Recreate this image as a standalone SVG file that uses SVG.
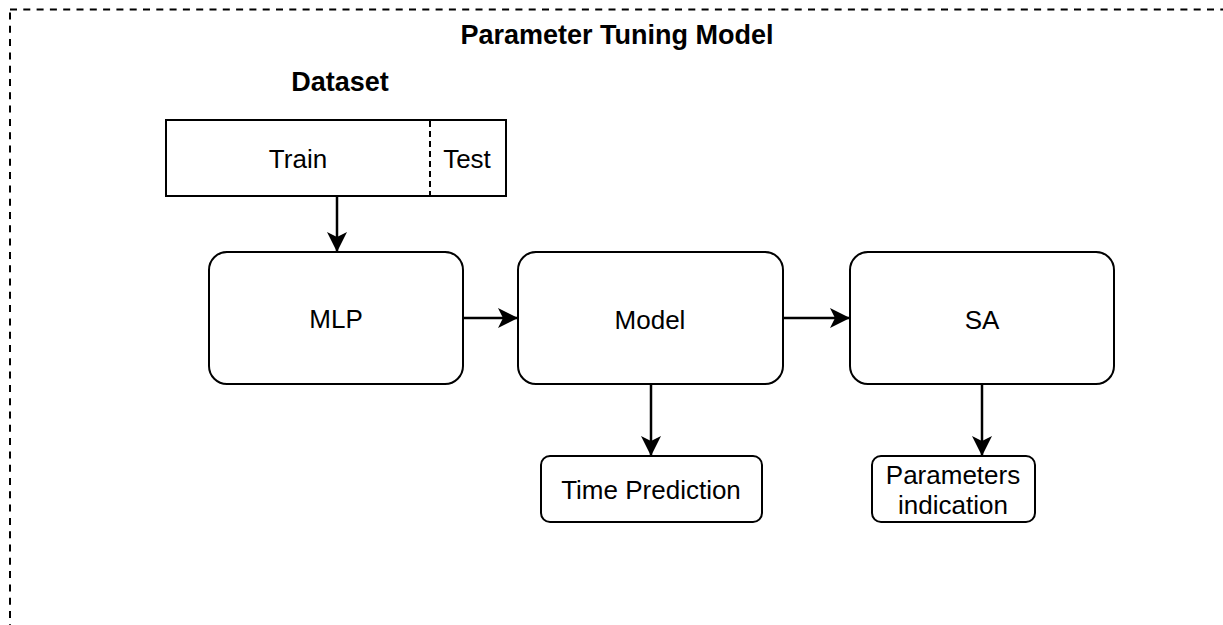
<svg xmlns="http://www.w3.org/2000/svg" width="1223" height="625" viewBox="0 0 1223 625">
  <style>
    .box { fill: #ffffff; stroke: #000000; stroke-width: 2; }
    .lbl { font-family: "Liberation Sans", Arial, sans-serif; font-size: 26px; fill: #000000; text-anchor: middle; }
    .ttl { font-family: "Liberation Sans", Arial, sans-serif; font-size: 27px; font-weight: bold; fill: #000000; text-anchor: middle; }
    .edge { fill: none; stroke: #000000; stroke-width: 2.5; }
  </style>
  <defs>
    <marker id="arrow" markerUnits="userSpaceOnUse" viewBox="0 0 20 20" markerWidth="20" markerHeight="20" refX="19" refY="10" orient="auto">
      <path d="M0,0 L20,10 L0,20 L5,10 Z" fill="#000000"/>
    </marker>
  </defs>

  <rect width="1223" height="625" fill="#ffffff"/>

  <!-- outer dashed frame -->
  <g id="frame">
    <rect x="10" y="9.5" width="1300" height="700" fill="none" stroke="#000000" stroke-width="2" stroke-dasharray="7 6.3"/>
    <text class="ttl" x="617" y="44">Parameter Tuning Model</text>
  </g>

  <!-- dataset split -->
  <g id="dataset">
    <text class="ttl" x="340" y="91">Dataset</text>
    <rect class="box" x="166" y="120" width="340" height="76"/>
    <line x1="430" y1="121" x2="430" y2="195" stroke="#000000" stroke-width="2" stroke-dasharray="6 4"/>
    <text class="lbl" x="298" y="168">Train</text>
    <text class="lbl" x="467" y="168">Test</text>
  </g>

  <g id="mlp">
    <rect class="box" x="209" y="252" width="254" height="132" rx="18" ry="18"/>
    <text class="lbl" x="336" y="328">MLP</text>
  </g>

  <g id="model">
    <rect class="box" x="518" y="252" width="265" height="132" rx="18" ry="18"/>
    <text class="lbl" x="650" y="329">Model</text>
  </g>

  <g id="sa">
    <rect class="box" x="850" y="252" width="264" height="132" rx="18" ry="18"/>
    <text class="lbl" x="982" y="329">SA</text>
  </g>

  <g id="time-prediction">
    <rect class="box" x="541" y="456" width="221" height="66" rx="9" ry="9"/>
    <text class="lbl" x="651" y="499">Time Prediction</text>
  </g>

  <g id="parameters-indication">
    <rect class="box" x="872" y="456" width="163" height="66" rx="9" ry="9"/>
    <text class="lbl" x="953" y="484">Parameters</text>
    <text class="lbl" x="953" y="514">indication</text>
  </g>

  <!-- connectors -->
  <g id="connectors">
    <line class="edge" x1="337" y1="196" x2="337" y2="251" marker-end="url(#arrow)"/>
    <line class="edge" x1="463" y1="318" x2="517" y2="318" marker-end="url(#arrow)"/>
    <line class="edge" x1="783" y1="318" x2="849" y2="318" marker-end="url(#arrow)"/>
    <line class="edge" x1="651" y1="384" x2="651" y2="455" marker-end="url(#arrow)"/>
    <line class="edge" x1="982" y1="384" x2="982" y2="455" marker-end="url(#arrow)"/>
  </g>
</svg>
